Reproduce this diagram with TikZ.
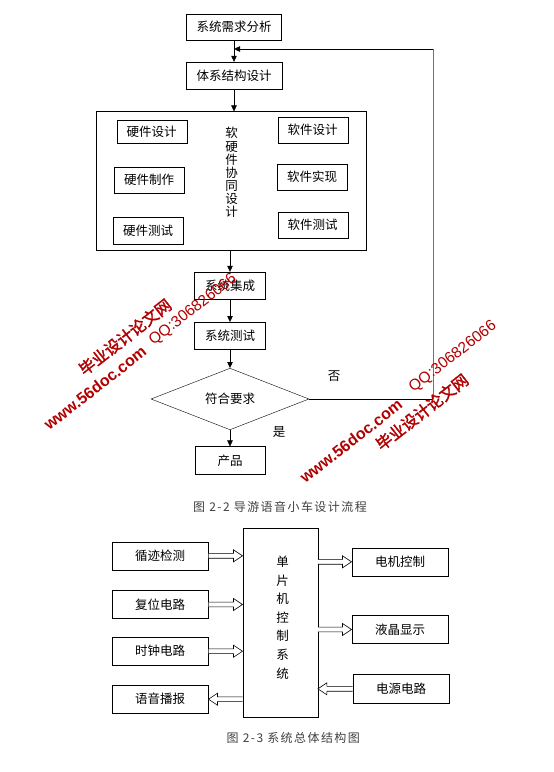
\documentclass[tikz,border=0pt]{standalone}
\usepackage{fontspec}
\setmainfont{Noto Sans CJK SC}
\newfontfamily\wmlatin{Liberation Sans}
\newfontfamily\wmcjk[FakeBold=2]{Noto Sans CJK SC}
\usetikzlibrary{positioning,arrows.meta,shapes.geometric,calc}

% hollow bus arrow from #1 to #2
\newcommand\busarrow[2]{%
  \path ($(#2)!9pt!(#1)$) coordinate (bushead);
  \draw[fill=white,line width=0.6pt] ($(#1)!2.4pt!90:(#2)$) -- ($(bushead)!2.4pt!90:(#2)$)
    -- ($(bushead)!6pt!90:(#2)$) -- (#2) -- ($(bushead)!6pt!-90:(#2)$)
    -- ($(bushead)!2.4pt!-90:(#2)$) -- ($(#1)!2.4pt!-90:(#2)$);}

\begin{document}
\begin{tikzpicture}[x=1pt,y=-1pt,
    box/.style={draw,align=center,inner sep=0pt,font=\fontsize{12.5}{15}\selectfont},
    hw/.style={box,minimum width=70pt,minimum height=26pt},
    unit/.style={box,minimum width=96.6pt,minimum height=28pt},
    flow/.style={-{Triangle[length=6pt,width=5.5pt]}},
    figcap/.style={font=\fontsize{12}{14}\selectfont\addfontfeature{LetterSpace=12},text=black!75},
    wm/.style={text=red!70!black,rotate=38,inner sep=0pt}
  ]
    \fill[white] (0,0) rectangle (554,772);
    \useasboundingbox (0,0) rectangle (554,772);

    % design flow
    \node[box,minimum width=95pt,minimum height=26pt] (req) at (234,27) {系统需求分析};
    \node[box,minimum width=96pt,minimum height=27pt] (arch) at (234,75.5) {体系结构设计};
    \node[draw,minimum width=269.3pt,minimum height=138.3pt] (codesign) at (231.3,180.8) {};
    \node[hw,minimum height=23pt] (hwdes) at (151.7,131.5) {硬件设计};
    \node[hw] (hwmake) at (149,180) {硬件制作};
    \node[hw,minimum height=27pt] (hwtest) at (148,230.5) {硬件测试};
    \node[hw] (swdes) at (312.7,130) {软件设计};
    \node[hw] (swimpl) at (312.2,177) {软件实现};
    \node[hw] (swtest) at (312.7,224.7) {软件测试};
    \node[align=center,font=\fontsize{12.5}{13.1}\selectfont] (cotext) at (231.7,172.5) {软\\硬\\件\\协\\同\\设\\计};
    \node[hw,minimum width=71pt,minimum height=27pt] (integ) at (230,285.5) {系统集成};
    \node[hw,minimum width=71pt,minimum height=27pt] (systest) at (230,335.7) {系统测试};
    \node[draw,diamond,inner sep=0pt,minimum width=158pt,minimum height=57pt,font=\fontsize{12.5}{15}\selectfont] (check) at (230,399) {符合要求};
    \node[hw,minimum height=27.3pt] (product) at (230,460.3) {产品};
    \node[font=\fontsize{12.5}{15}\selectfont] (no) at (334,376) {否};
    \node[font=\fontsize{12.5}{15}\selectfont] (yes) at (279,432) {是};
    \coordinate (fbr) at (433,399);
    \coordinate (fbt) at (433,49);

    \draw[flow] (req) -- (arch);
    \draw[flow] (arch.south) -- (arch.south |- codesign.north);
    \draw[flow] (integ.north |- codesign.south) -- (integ.north);
    \draw[flow] (integ) -- (systest);
    \draw[flow] (systest) -- (check);
    \draw[flow] (check) -- (product);
    \draw (check.east) -- (fbr);
    \draw[black!55,line width=0.8pt] (fbr) -- (fbt);
    \draw[flow] (fbt) -- (fbt -| req.south);

    \node[figcap] (cap1) at (280,507) {图 2-2 导游语音小车设计流程};

    % overall structure
    \node[unit] (track) at (160,555.8) {循迹检测};
    \node[unit] (reset) at (160,604.5) {复位电路};
    \node[unit] (clock) at (160,651.2) {时钟电路};
    \node[unit] (voice) at (160,699.2) {语音播报};
    \node[draw,minimum width=75pt,minimum height=189pt] (mcu) at (280.2,622.8) {};
    \node[align=center,font=\fontsize{12.5}{18.6}\selectfont] (mcutext) at (282.7,617.5) {单\\片\\机\\控\\制\\系\\统};
    \node[unit] (motor) at (400,561.8) {电机控制};
    \node[unit] (lcd) at (400,629.5) {液晶显示};
    \node[unit,minimum height=29pt] (power) at (401,688.8) {电源电路};

    \busarrow{track.east}{track.east -| mcu.west}
    \busarrow{reset.east}{reset.east -| mcu.west}
    \busarrow{clock.east}{clock.east -| mcu.west}
    \busarrow{voice.east -| mcu.west}{voice.east}
    \busarrow{motor.west -| mcu.east}{motor.west}
    \busarrow{lcd.west -| mcu.east}{lcd.west}
    \busarrow{power.west}{power.west -| mcu.east}

    \node[figcap] (cap2) at (293.3,738.3) {图 2-3 系统总体结构图};

    % watermarks
    \node[wm,font=\wmcjk\fontsize{16}{16}\selectfont] (siteL) at (125,337) {毕业设计论文网};
    \node[wm,font=\wmlatin\fontsize{15.5}{15}\selectfont] (qqL) at (193,310) {QQ:306826066};
    \node[wm,font=\wmlatin\bfseries\fontsize{16}{16}\selectfont] (urlL) at (95,388) {www.56doc.com};
    \node[wm,font=\wmcjk\fontsize{16}{16}\selectfont] (siteR) at (422,412) {毕业设计论文网};
    \node[wm,font=\wmlatin\fontsize{15.5}{15}\selectfont] (qqR) at (453,357) {QQ:306826066};
    \node[wm,font=\wmlatin\bfseries\fontsize{16}{16}\selectfont] (urlR) at (351,441) {www.56doc.com};
  \end{tikzpicture}
\end{document}
